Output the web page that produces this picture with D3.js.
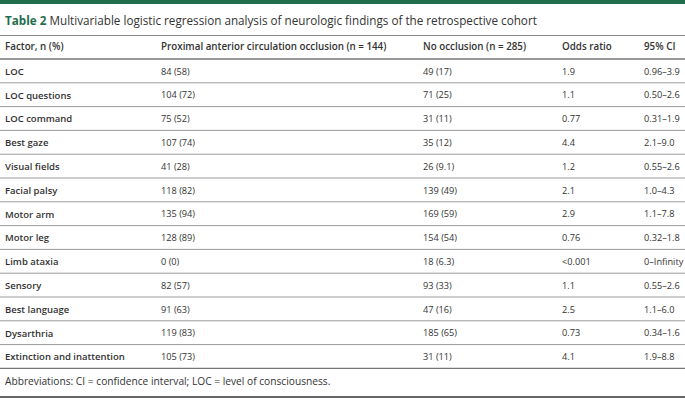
<!DOCTYPE html>
<html>
<head>
<meta charset="utf-8">
<script src="https://cdn.jsdelivr.net/npm/d3@7"></script>
<style>
  html, body { margin: 0; padding: 0; background: #fff; }
  svg text { font-family: "Open Sans", "Noto Sans", sans-serif; }
</style>
</head>
<body>
<div id="table2"></div>
<script>
// Table 2 — neurologic findings, proximal occlusion vs no occlusion

const headers = ["Factor, n (%)", "Proximal anterior circulation occlusion (n = 144)", "No occlusion (n = 285)", "Odds ratio", "95% CI"];

const factors = ["LOC", "LOC questions", "LOC command", "Best gaze", "Visual fields", "Facial palsy",
  "Motor arm", "Motor leg", "Limb ataxia", "Sensory", "Best language", "Dysarthria", "Extinction and inattention"];

const proximal = ["84 (58)", "104 (72)", "75 (52)", "107 (74)", "41 (28)", "118 (82)",
  "135 (94)", "128 (89)", "0 (0)", "82 (57)", "91 (63)", "119 (83)", "105 (73)"];

const noOcclusion = ["49 (17)", "71 (25)", "31 (11)", "35 (12)", "26 (9.1)", "139 (49)",
  "169 (59)", "154 (54)", "18 (6.3)", "93 (33)", "47 (16)", "185 (65)", "31 (11)"];

const oddsRatio = ["1.9", "1.1", "0.77", "4.4", "1.2", "2.1", "2.9", "0.76", "<0.001", "1.1", "2.5", "0.73", "4.1"];

const ci95 = ["0.96–3.9", "0.50–2.6", "0.31–1.9", "2.1–9.0", "0.55–2.6", "1.0–4.3", "1.1–7.8",
  "0.32–1.8", "0–Infinity", "0.55–2.6", "1.1–6.0", "0.34–1.6", "1.9–8.8"];

const titleLabel = "Table 2";
const titleText = "Multivariable logistic regression analysis of neurologic findings of the retrospective cohort";
const footnote = "Abbreviations: CI = confidence interval; LOC = level of consciousness.";

const W = 685, H = 400;
const green = "#1f6e4c";
const textCol = "#333";

const svg = d3.select("#table2").append("svg")
  .attr("width", W).attr("height", H);

// top green band
svg.append("rect").attr("x", 0).attr("y", 0).attr("width", W).attr("height", 4).attr("fill", green);

// title
const title = svg.append("text").attr("x", 5).attr("y", 21).attr("dy", "0.35em")
  .style("font-size", "11.7px").style("fill", textCol);
title.append("tspan").style("font-weight", "700").style("fill", green).text(titleLabel);
title.append("tspan").text(" " + titleText);

// column positions
const cols = d3.range(headers.length);
const x = d3.scaleOrdinal().domain(cols).range([5, 161, 423, 562, 644]);

// rows
const y = d3.scaleBand().domain(factors).range([59, 59 + 13 * 23.8]);

const rows = factors.map((f, i) => [f, proximal[i], noOcclusion[i], oddsRatio[i], ci95[i]]);

// line under title
svg.append("line").attr("x1", 0).attr("x2", W).attr("y1", 35.5).attr("y2", 35.5)
  .attr("stroke", "#8a8a8a").attr("stroke-width", 1);

// header
svg.append("g").selectAll("text").data(headers).join("text")
  .attr("x", (d, i) => x(i)).attr("y", 47).attr("dy", "0.35em")
  .style("font-size", "9.8px").style("font-weight", "600").style("fill", textCol)
  .text(d => d);

svg.append("line").attr("x1", 0).attr("x2", W).attr("y1", 59).attr("y2", 59)
  .attr("stroke", "#777").attr("stroke-width", 1.3);

// body rows
const rowG = svg.append("g").selectAll("g").data(rows).join("g")
  .attr("transform", (d, i) => `translate(0,${y(factors[i])})`);

rowG.selectAll("text").data(d => d).join("text")
  .attr("x", (d, i) => x(i)).attr("y", y.bandwidth() / 2 + 0.5).attr("dy", "0.35em")
  .style("font-size", (d, i) => i === 0 ? "9.5px" : "9.2px")
  .style("font-weight", (d, i) => i === 0 ? "600" : "400")
  .style("fill", textCol)
  .text(d => d);

rowG.append("line")
  .attr("x1", 0).attr("x2", W)
  .attr("y1", y.bandwidth()).attr("y2", y.bandwidth())
  .attr("stroke", (d, i) => i === factors.length - 1 ? "#777" : "#9a9a9a")
  .attr("stroke-width", (d, i) => i === factors.length - 1 ? 1.3 : 1);

// footnote
svg.append("text").attr("x", 5).attr("y", 381).attr("dy", "0.35em")
  .style("font-size", "10.2px").style("fill", textCol).text(footnote);

svg.append("line").attr("x1", 0).attr("x2", W).attr("y1", 397).attr("y2", 397)
  .attr("stroke", "#333").attr("stroke-width", 1.6);
</script>
</body>
</html>
